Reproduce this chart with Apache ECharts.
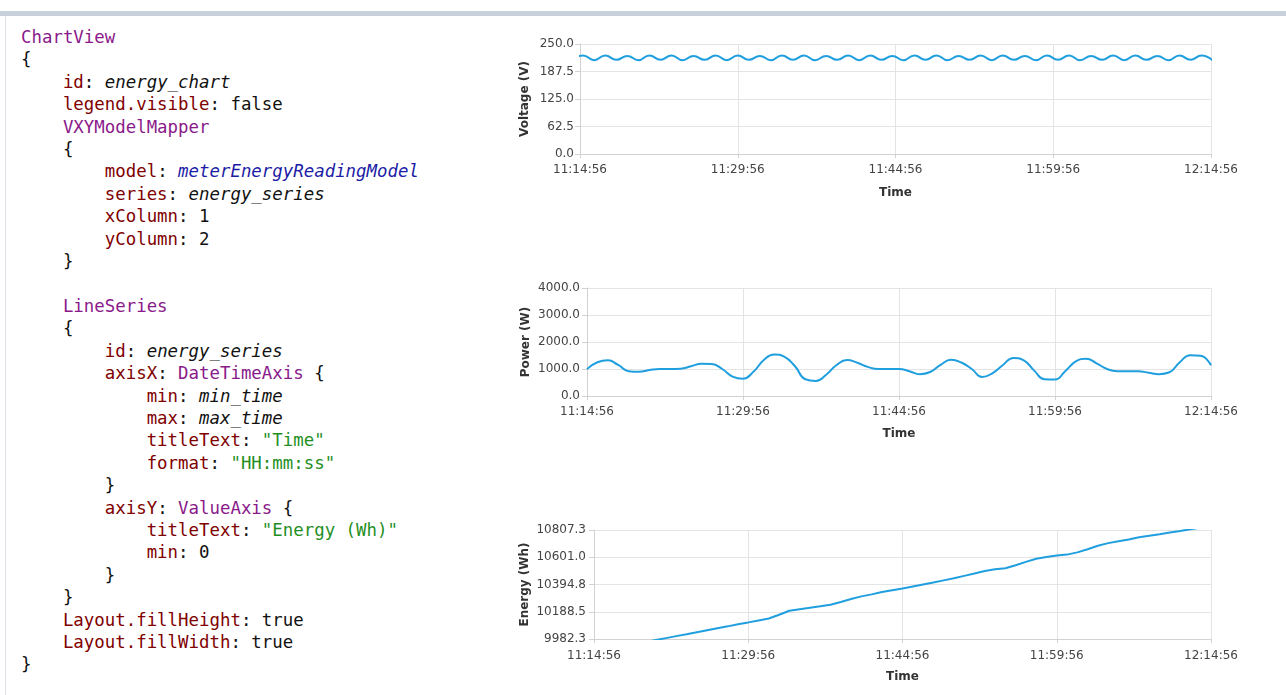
<!DOCTYPE html>
<html>
<head>
<meta charset="utf-8">
<script src="https://cdn.jsdelivr.net/npm/echarts@6/dist/echarts.min.js"></script>
<style>
  html, body { margin:0; padding:0; background:#fff; width:1286px; height:695px; overflow:hidden; }
  #topbar { position:absolute; left:0; top:11px; width:1286px; height:5px; background:#c8d0dc; }
  #leftline { position:absolute; left:5px; top:16px; width:1px; height:679px; background:#dde2e8; }
  #code { position:absolute; left:21px; top:26px; margin:0; font-family:"DejaVu Sans Mono", monospace; font-size:17.4px; line-height:22.4px; color:#111; white-space:pre; }
  .t { color:#8a1a8a; }
  .p { color:#800000; }
  .s { color:#1f8f1f; }
  .i { font-style:italic; }
  .b { font-style:italic; color:#1c1ca6; }
  #chart { position:absolute; left:490px; top:0; width:796px; height:695px; }
</style>
</head>
<body>
<div id="topbar"></div>
<div id="leftline"></div>
<pre id="code"><span class="t">ChartView</span>
{
    <span class="p">id</span>: <span class="i">energy_chart</span>
    <span class="p">legend.visible</span>: false
    <span class="t">VXYModelMapper</span>
    {
        <span class="p">model</span>: <span class="b">meterEnergyReadingModel</span>
        <span class="p">series</span>: <span class="i">energy_series</span>
        <span class="p">xColumn</span>: 1
        <span class="p">yColumn</span>: 2
    }

    <span class="t">LineSeries</span>
    {
        <span class="p">id</span>: <span class="i">energy_series</span>
        <span class="p">axisX</span>: <span class="t">DateTimeAxis</span> {
            <span class="p">min</span>: <span class="i">min_time</span>
            <span class="p">max</span>: <span class="i">max_time</span>
            <span class="p">titleText</span>: <span class="s">"Time"</span>
            <span class="p">format</span>: <span class="s">"HH:mm:ss"</span>
        }
        <span class="p">axisY</span>: <span class="t">ValueAxis</span> {
            <span class="p">titleText</span>: <span class="s">"Energy (Wh)"</span>
            <span class="p">min</span>: 0
        }
    }
    <span class="p">Layout.fillHeight</span>: true
    <span class="p">Layout.fillWidth</span>: true
}</pre>
<div id="chart"></div>
<script>
// ---- data (time in seconds after 11:14:56) ----
const xTickLabels = ['11:14:56', '11:29:56', '11:44:56', '11:59:56', '12:14:56'];

const voltageYLabels = ['0.0', '62.5', '125.0', '187.5', '250.0'];
const powerYLabels = ['0.0', '1000.0', '2000.0', '3000.0', '4000.0'];
const energyYLabels = ['9982.3', '10188.5', '10394.8', '10601.0', '10807.3'];

// voltage sampled every 63 s starting at -45 s (alternating trough / peak)
const voltageStart = -45;
const voltageStep = 63;
const voltageValues = [
  214, 224, 213, 224, 214, 223, 213, 224, 214, 224,
  213, 223, 214, 224, 213, 224, 214, 223, 213, 224,
  214, 224, 213, 223, 214, 224, 213, 224, 214, 223,
  213, 224, 214, 224, 213, 223, 214, 224, 213, 224,
  214, 223, 213, 224, 214, 224, 213, 223, 214, 224,
  213, 224, 214, 223, 213, 224, 214, 224, 213
];

// power sampled every 60 s
const powerStep = 60;
const powerValues = [
  995, 1250, 1320, 1150, 920, 895, 960, 1000, 1000, 1010,
  1100, 1195, 1185, 1000, 720, 640, 894, 1330, 1540, 1450,
  1100, 620, 560, 790, 1150, 1330, 1230, 1080, 1000, 1000,
  1000, 920, 810, 890, 1150, 1340, 1240, 1000, 700, 850,
  1150, 1410, 1320, 940, 620, 610, 930, 1280, 1380, 1210,
  1000, 920, 920, 920, 860, 810, 880, 1250, 1510, 1490,
  1140
];

// energy sampled every 60 s
const energyStep = 60;
const energyValues = [
  9884, 9899, 9914, 9929, 9944, 9959, 9974, 9989, 10004, 10018,
  10033, 10048, 10063, 10078, 10094, 10108, 10123, 10137, 10166, 10196,
  10208, 10219, 10230, 10242, 10263, 10285, 10305, 10320, 10338, 10352,
  10365, 10380, 10395, 10410, 10426, 10442, 10460, 10478, 10497, 10510,
  10518, 10540, 10566, 10590, 10603, 10615, 10621, 10638, 10662, 10688,
  10708, 10722, 10736, 10752, 10764, 10775, 10788, 10800, 10813, 10826,
  10838
];

const toPairs = (start, step, vals) => vals.map((v, i) => [start + i * step, v]);

const FONT = 'DejaVu Sans';
const AXIS_COLOR = '#d2d2d2';
const GRID_COLOR = '#e4e4e4';
const LINE_COLOR = '#209fdf';

function xAxis(gridIndex, margin, nameGap) {
  return {
    type: 'value', gridIndex: gridIndex, min: 0, max: 3600, interval: 900,
    name: 'Time', nameLocation: 'middle', nameGap: nameGap, nameMoveOverlap: false,
    nameTextStyle: { fontFamily: FONT, fontSize: 12, fontWeight: 'bold', color: '#333' },
    axisLine: { show: true, onZero: false, lineStyle: { color: AXIS_COLOR, width: 1 } },
    axisTick: { show: true, length: 4, lineStyle: { color: AXIS_COLOR } },
    axisLabel: {
      margin: margin, color: '#444', fontFamily: FONT, fontSize: 12,
      showMinLabel: true, showMaxLabel: true, hideOverlap: false,
      formatter: v => xTickLabels[Math.round(v / 900)]
    },
    splitLine: { show: true, lineStyle: { color: GRID_COLOR, width: 1 } }
  };
}

function yAxis(gridIndex, name, nameGap, min, max, interval, labels, margin) {
  return {
    type: 'value', gridIndex: gridIndex, min: min, max: max, interval: interval,
    name: name, nameLocation: 'middle', nameGap: nameGap, nameMoveOverlap: false,
    nameTextStyle: { fontFamily: FONT, fontSize: 12, fontWeight: 'bold', color: '#333' },
    axisLine: { show: true, onZero: false, lineStyle: { color: AXIS_COLOR, width: 1 } },
    axisTick: { show: true, length: 5, lineStyle: { color: AXIS_COLOR } },
    axisLabel: {
      margin: margin, color: '#444', fontFamily: FONT, fontSize: 12,
      showMinLabel: true, showMaxLabel: true, hideOverlap: false,
      formatter: v => labels[Math.round((v - min) / interval)]
    },
    splitLine: { show: true, lineStyle: { color: GRID_COLOR, width: 1 } }
  };
}

function lineSeries(idx, data, smooth) {
  return {
    type: 'line', xAxisIndex: idx, yAxisIndex: idx, data: data,
    showSymbol: false, smooth: smooth, clip: true, animation: false,
    lineStyle: { color: LINE_COLOR, width: 2 }, itemStyle: { color: LINE_COLOR }
  };
}

const chart = echarts.init(document.getElementById('chart'), null, { renderer: 'canvas' });
chart.setOption({
  animation: false,
  backgroundColor: 'transparent',
  grid: [
    { left: 90, top: 44, width: 631, height: 110, containLabel: false, outerBoundsMode: 'none' },
    { left: 97, top: 288, width: 624, height: 108, containLabel: false, outerBoundsMode: 'none' },
    { left: 104, top: 530, width: 617, height: 109, containLabel: false, outerBoundsMode: 'none' }
  ],
  xAxis: [
    xAxis(0, 10, 33),
    xAxis(1, 10, 32),
    xAxis(2, 11, 32)
  ],
  yAxis: [
    yAxis(0, 'Voltage (V)', 49, 0, 250, 62.5, voltageYLabels, 6),
    yAxis(1, 'Power (W)', 55, 0, 4000, 1000, powerYLabels, 7),
    yAxis(2, 'Energy (Wh)', 63, 9982.3, 10807.3, 206.25, energyYLabels, 8)
  ],
  series: [
    lineSeries(0, toPairs(voltageStart, voltageStep, voltageValues), 0.5),
    lineSeries(1, toPairs(0, powerStep, powerValues), 0.5),
    lineSeries(2, toPairs(0, energyStep, energyValues), false)
  ]
});
</script>
</body>
</html>
